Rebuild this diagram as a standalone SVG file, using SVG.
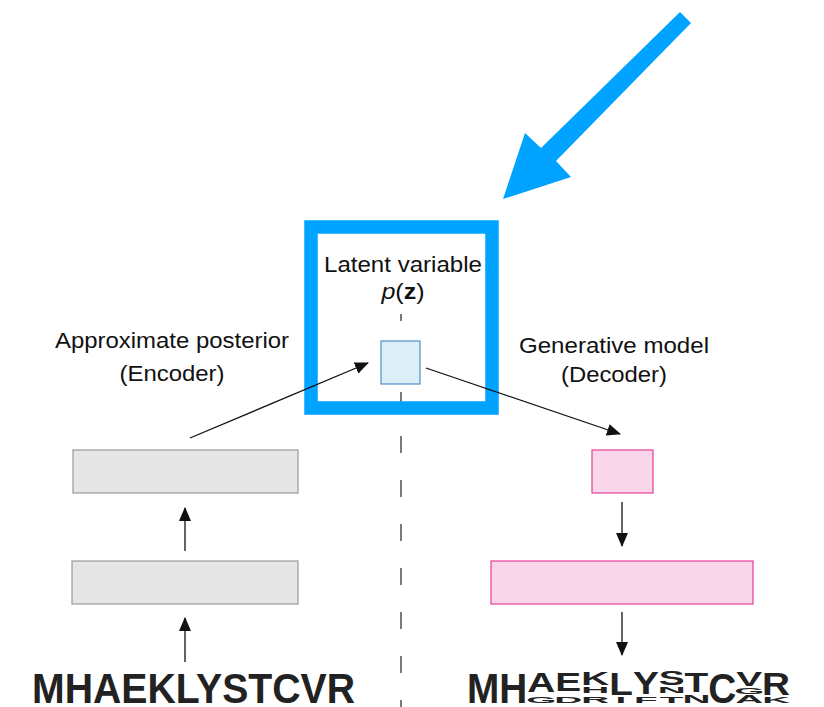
<svg xmlns="http://www.w3.org/2000/svg" width="824" height="707" viewBox="0 0 824 707">
<style>
.lbl{font-family:"Liberation Sans",Arial,sans-serif;font-size:22px;fill:#111;text-anchor:middle}
.seq{font-family:"Liberation Sans",Arial,sans-serif;font-weight:bold;font-size:43.3px;fill:#222}
.logo{font-family:"Liberation Sans",Arial,sans-serif;font-weight:bold;font-size:43.3px;fill:#222;text-anchor:middle}
.enc{fill:#E6E6E6;stroke:#9A9A9A;stroke-width:1.2}
.dec{fill:#F9D6EA;stroke:#E0409A;stroke-width:1.2}
.conn{stroke:#111;stroke-width:1.3;fill:none;marker-end:url(#ah)}
</style>
<defs>
<marker id="ah" markerUnits="userSpaceOnUse" markerWidth="14" markerHeight="12" viewBox="0 0 14 12" refX="13" refY="6" orient="auto">
<path d="M0,0 L14,6 L0,12 z" fill="#111"/>
</marker>
</defs>
<rect width="824" height="707" fill="#fff"/>

<g id="dashed-divider">
<line x1="401" y1="314" x2="401" y2="707" stroke="#222" stroke-width="1.2" stroke-dasharray="17 27" stroke-dashoffset="10"/>
</g>

<g id="latent">
<rect x="381" y="341" width="39" height="43" fill="#DCEEF8" stroke="#4F90C9" stroke-width="1.2"/>
<text class="lbl" x="403" y="272" textLength="158" lengthAdjust="spacingAndGlyphs">Latent variable</text>
<text class="lbl" transform="translate(403,299) scale(1.14,1)"><tspan font-style="italic">p</tspan>(<tspan font-weight="bold">z</tspan>)</text>
</g>

<g id="highlight">
<rect x="311" y="227" width="181" height="181" fill="none" stroke="#00A3FF" stroke-width="13.5"/>
<polygon points="680,12 691,23 556,161 571,177 503,199 525,133 541,148" fill="#00A3FF"/>
</g>

<g id="encoder">
<text class="lbl" x="172" y="348" textLength="234" lengthAdjust="spacingAndGlyphs">Approximate posterior</text>
<text class="lbl" x="172" y="381" textLength="105" lengthAdjust="spacingAndGlyphs">(Encoder)</text>
<rect id="enc-top" class="enc" x="73" y="450" width="225" height="43"/>
<rect id="enc-bottom" class="enc" x="72" y="561" width="226" height="43"/>
</g>

<g id="decoder">
<text class="lbl" x="614" y="353" textLength="190" lengthAdjust="spacingAndGlyphs">Generative model</text>
<text class="lbl" x="614" y="382" textLength="106" lengthAdjust="spacingAndGlyphs">(Decoder)</text>
<rect id="dec-small" class="dec" x="592" y="450" width="61" height="43"/>
<rect id="dec-large" class="dec" x="491" y="561" width="262" height="43"/>
</g>

<g id="input-seq">
<text class="seq" x="32" y="703" textLength="323" lengthAdjust="spacingAndGlyphs">MHAEKLYSTCVR</text>
</g>

<g id="output-logo">
<text class="logo" transform="translate(483.1,703) scale(0.895,1)">M</text>
<text class="logo" transform="translate(513.3,703) scale(0.895,1)">H</text>
<text class="logo" transform="translate(541.3,692) scale(0.895,0.645)">A</text>
<text class="logo" transform="translate(541.3,703) scale(0.895,0.226)">G</text>
<text class="logo" transform="translate(568.2,691) scale(0.895,0.613)">E</text>
<text class="logo" transform="translate(568.2,703) scale(0.895,0.226)">D</text>
<text class="logo" transform="translate(595.2,685) scale(0.895,0.419)">K</text>
<text class="logo" transform="translate(595.2,693) scale(0.895,0.226)">H</text>
<text class="logo" transform="translate(595.2,703) scale(0.895,0.226)">R</text>
<text class="logo" transform="translate(621,695) scale(0.895,0.742)">L</text>
<text class="logo" transform="translate(621,703) scale(0.895,0.194)">I</text>
<text class="logo" transform="translate(645.8,694) scale(0.895,0.71)">Y</text>
<text class="logo" transform="translate(645.8,703) scale(0.895,0.194)">F</text>
<text class="logo" transform="translate(671.6,685) scale(0.895,0.452)">S</text>
<text class="logo" transform="translate(671.6,693) scale(0.895,0.194)">N</text>
<text class="logo" transform="translate(671.6,703) scale(0.895,0.226)">T</text>
<text class="logo" transform="translate(696.4,692) scale(0.895,0.645)">T</text>
<text class="logo" transform="translate(696.4,703) scale(0.895,0.258)">N</text>
<text class="logo" transform="translate(722.3,703) scale(0.895,1)">C</text>
<text class="logo" transform="translate(749.2,686) scale(0.895,0.452)">V</text>
<text class="logo" transform="translate(749.2,694) scale(0.895,0.194)">G</text>
<text class="logo" transform="translate(749.2,703) scale(0.895,0.258)">A</text>
<text class="logo" transform="translate(776.1,695) scale(0.895,0.742)">R</text>
<text class="logo" transform="translate(776.1,703) scale(0.895,0.194)">K</text>
</g>

<g id="connectors">
<line class="conn" x1="185" y1="662" x2="185" y2="618"/>
<line class="conn" x1="185" y1="551" x2="185" y2="508"/>
<line class="conn" x1="190" y1="438" x2="368" y2="363"/>
<line class="conn" x1="426" y1="368" x2="620" y2="434"/>
<line class="conn" x1="622" y1="502" x2="622" y2="546"/>
<line class="conn" x1="622" y1="612" x2="622" y2="655"/>
</g>
</svg>
